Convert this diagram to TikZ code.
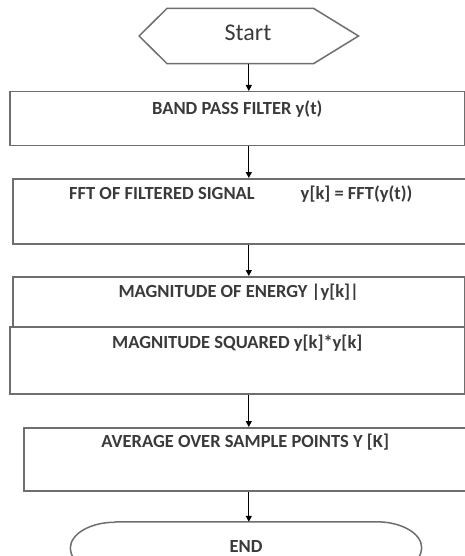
\documentclass[tikz,border=0pt]{standalone}
\usepackage{fontspec}
\setmainfont{Carlito}
\usetikzlibrary{arrows.meta,calc}
\definecolor{edge}{HTML}{6E6E6E}
\definecolor{txt}{HTML}{3A3A3A}
\tikzset{
  boxstyle/.style={draw=edge, line width=1.5pt, rectangle, anchor=north west, inner sep=0pt},
  lab/.style={anchor=north, inner sep=0pt, font=\fontsize{18.5}{18.5}\selectfont\bfseries, text=txt},
  shapeline/.style={draw=edge, line width=1.5pt},
  arr/.style={-{Triangle[length=6pt,width=6pt]}, line width=1.2pt, black},
}
\begin{document}
\begin{tikzpicture}[x=1pt,y=1pt]
\clip (0,0) rectangle (465,-556);
% start hexagon
\node[minimum width=219pt, minimum height=55pt, inner sep=0pt] (start) at (248.8,-36) {};
\node[font=\fontsize{24}{24}\selectfont, text=txt, inner sep=0pt] (starttxt) at (248,-33) {Start};
\draw[shapeline] (start.west) -- ($(start.north west)+(28,0)$) -- ($(start.north east)+(-45,0)$)
  -- (start.east) -- ($(start.south east)+(-45,0)$) -- ($(start.south west)+(28,0)$) -- cycle;
% boxes
\node[boxstyle, minimum width=455pt, minimum height=54pt,
  label={[lab, yshift=-10pt]north:BAND PASS FILTER y(t)}] (b1) at (9,-91) {};
\node[boxstyle, minimum width=456pt, minimum height=65pt,
  label={[lab, yshift=-8pt]north:FFT OF FILTERED SIGNAL\hspace{46pt}y[k] = FFT(y(t))}] (b2) at (12,-178) {};
\node[boxstyle, minimum width=452pt, minimum height=50pt,
  label={[lab, yshift=-8pt]north:MAGNITUDE OF ENERGY |y[k]|}] (b3) at (12,-276) {};
\node[boxstyle, minimum width=455pt, minimum height=67pt,
  label={[lab, yshift=-9pt]north:MAGNITUDE SQUARED y[k]*y[k]}] (b4) at (9,-326) {};
\node[boxstyle, minimum width=443pt, minimum height=63pt,
  label={[lab, yshift=-7pt]north:AVERAGE OVER SAMPLE POINTS Y [K]}] (b5) at (23,-427) {};
% end terminator
\node[minimum width=351pt, minimum height=52pt, inner sep=0pt] (endn) at (246,-548) {};
\node[lab, anchor=center] (endtxt) at (246,-546) {END};
\draw[shapeline] ($(endn.north west)+(45,0)$) -- ($(endn.north east)+(-45,0)$)
  arc[start angle=90, end angle=-90, x radius=45pt, y radius=26pt]
  -- ($(endn.south west)+(45,0)$)
  arc[start angle=270, end angle=90, x radius=45pt, y radius=26pt];
% arrows
\draw[arr] (start.south) -- (start.south |- b1.north);
\draw[arr] (start.south |- b1.south) -- (start.south |- b2.north);
\draw[arr] (start.south |- b2.south) -- (start.south |- b3.north);
\draw[arr] (start.south |- b4.south) -- (start.south |- b5.north);
\draw[arr] (start.south |- b5.south) -- (start.south |- endn.north);
\end{tikzpicture}
\end{document}
